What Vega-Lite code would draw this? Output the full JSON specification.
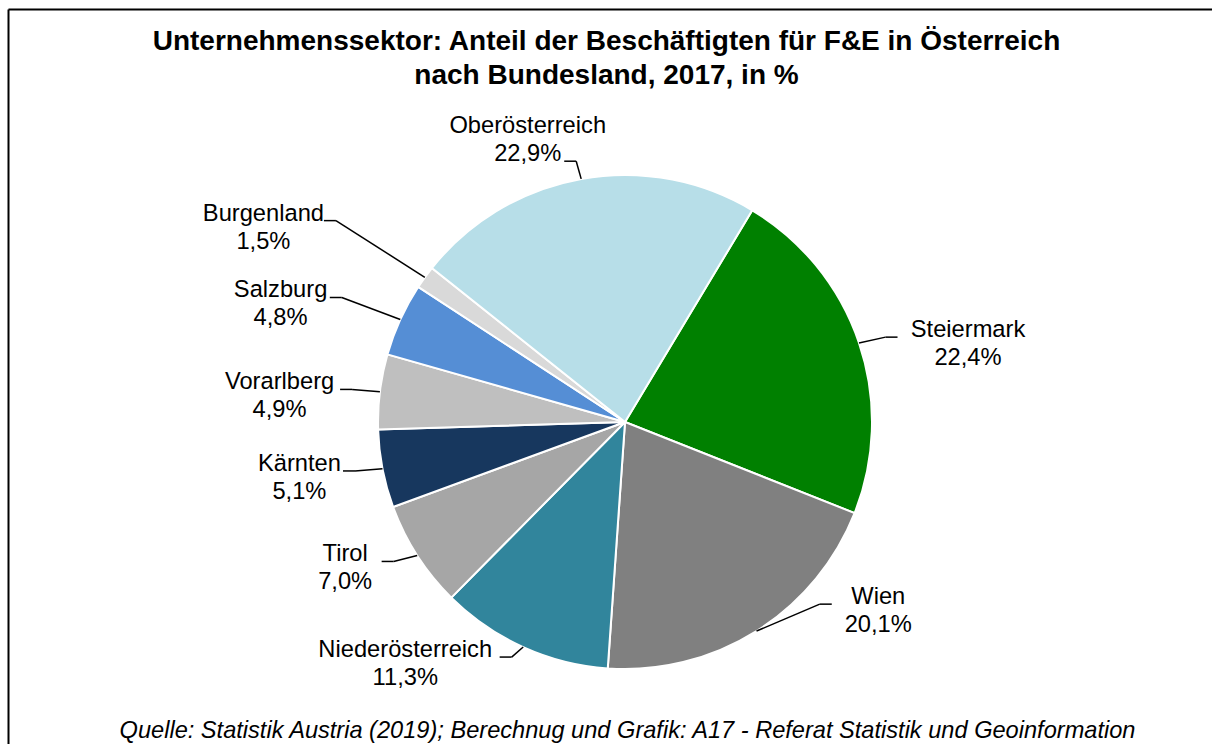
{
  "$schema": "https://vega.github.io/schema/vega-lite/v6.json",
  "width": 1212,
  "height": 744,
  "autosize": {"type": "fit", "contains": "padding"},
  "padding": {"left": 8, "top": 9, "right": 0, "bottom": 0},
  "background": "white",
  "config": {"view": {"stroke": null}, "font": "Liberation Sans"},
  "data": {
    "values": [
      {"ord": 1, "name": "Steiermark", "value": 22.4},
      {"ord": 2, "name": "Wien", "value": 20.1},
      {"ord": 3, "name": "Niederösterreich", "value": 11.3},
      {"ord": 4, "name": "Tirol", "value": 7.0},
      {"ord": 5, "name": "Kärnten", "value": 5.1},
      {"ord": 6, "name": "Vorarlberg", "value": 4.9},
      {"ord": 7, "name": "Salzburg", "value": 4.8},
      {"ord": 8, "name": "Burgenland", "value": 1.5},
      {"ord": 9, "name": "Oberösterreich", "value": 22.9}
    ]
  },
  "transform": [
    {"stack": "value", "groupby": [], "sort": [{"field": "ord", "order": "ascending"}], "as": ["v0", "v1"]},
    {"calculate": "0.5411 + PI*(datum.v0+datum.v1)/100", "as": "a"},
    {"calculate": "sin(datum.a) >= 0 ? 1 : -1", "as": "s"},
    {"calculate": "cos(datum.a) > 0.9", "as": "top"},
    {"calculate": "247*sin(datum.a)", "as": "ex"},
    {"calculate": "247*cos(datum.a)", "as": "ey"},
    {"calculate": "1 + 1.7*max(0, max(0, -sin(datum.a))*max(0, cos(datum.a)) - 0.3)", "as": "k"},
    {"calculate": "datum.a - 0.5*max(0, sin(datum.a))*max(0, -cos(datum.a))", "as": "ab"},
    {"calculate": "275*sin(datum.ab)*datum.k", "as": "bx"},
    {"calculate": "(cos(datum.ab) > 0 ? 265 : 258)*cos(datum.ab)*datum.k", "as": "by"},
    {"calculate": "datum.bx + 12*datum.s", "as": "hx"},
    {"calculate": "datum.top ? 65 : max(length(datum.name)*11.3, 65)", "as": "w"},
    {"calculate": "datum.hx + datum.s*((datum.s > 0 ? 14 : 4) + datum.w/2)", "as": "tx"},
    {"calculate": "datum.by + (datum.top ? 28 : 0)", "as": "ty"},
    {"calculate": "datum.name + '\\n' + replace(format(datum.value, '.1f'), '.', ',') + '%'", "as": "label"}
  ],
  "layer": [
    {
      "mark": {"type": "arc", "outerRadius": 247, "stroke": "white", "strokeWidth": 2},
      "encoding": {
        "theta": {"field": "value", "type": "quantitative", "stack": true, "scale": {"domain": [0, 100], "range": [0.5411, 6.8243]}},
        "order": {"field": "ord", "type": "quantitative"},
        "color": {
          "field": "name", "type": "nominal", "legend": null,
          "scale": {
            "domain": ["Steiermark", "Wien", "Niederösterreich", "Tirol", "Kärnten", "Vorarlberg", "Salzburg", "Burgenland", "Oberösterreich"],
            "range": ["#008000", "#808080", "#31859C", "#A6A6A6", "#17375E", "#BFBFBF", "#558ED5", "#D9D9D9", "#B7DEE8"]
          }
        },
        "x": {
          "datum": 0, "type": "quantitative",
          "scale": {"domain": [-617, 587], "nice": false, "zero": false},
          "axis": {
            "orient": "top",
            "title": ["Unternehmenssektor: Anteil der Beschäftigten für F&E in Österreich", "nach Bundesland, 2017, in %"],
            "titleFont": "Liberation Sans", "titleFontSize": 28, "titleFontWeight": "bold", "titleColor": "black",
            "titleLineHeight": 34, "titleX": 598, "titleY": 40, "titleAlign": "center", "titleBaseline": "alphabetic",
            "domain": true, "domainColor": "black", "domainWidth": 2, "ticks": false, "labels": false, "grid": false
          }
        },
        "y": {
          "datum": 0, "type": "quantitative",
          "scale": {"domain": [-322, 413], "nice": false, "zero": false},
          "axis": {
            "orient": "left",
            "title": "Quelle: Statistik Austria (2019); Berechnug und Grafik: A17 - Referat Statistik und Geoinformation",
            "titleFont": "Liberation Sans", "titleFontSize": 23.6, "titleFontStyle": "italic", "titleFontWeight": "normal", "titleColor": "black",
            "titleAngle": 0, "titleX": 619, "titleY": 728, "titleAlign": "center", "titleBaseline": "alphabetic",
            "domain": true, "domainColor": "black", "domainWidth": 2, "ticks": false, "labels": false, "grid": false
          }
        }
      }
    },
    {
      "mark": {"type": "rule", "color": "black", "strokeWidth": 1.5},
      "encoding": {
        "x": {"field": "ex", "type": "quantitative"},
        "y": {"field": "ey", "type": "quantitative"},
        "x2": {"field": "bx"},
        "y2": {"field": "by"}
      }
    },
    {
      "mark": {"type": "rule", "color": "black", "strokeWidth": 1.5},
      "encoding": {
        "x": {"field": "bx", "type": "quantitative"},
        "x2": {"field": "hx"},
        "y": {"field": "by", "type": "quantitative"}
      }
    },
    {
      "mark": {"type": "text", "align": "center", "baseline": "alphabetic", "fontSize": 23.7, "font": "Liberation Sans", "lineBreak": "\n", "lineHeight": 28, "color": "black"},
      "encoding": {
        "x": {"field": "tx", "type": "quantitative"},
        "y": {"field": "ty", "type": "quantitative"},
        "text": {"field": "label", "type": "nominal"}
      }
    }
  ]
}
